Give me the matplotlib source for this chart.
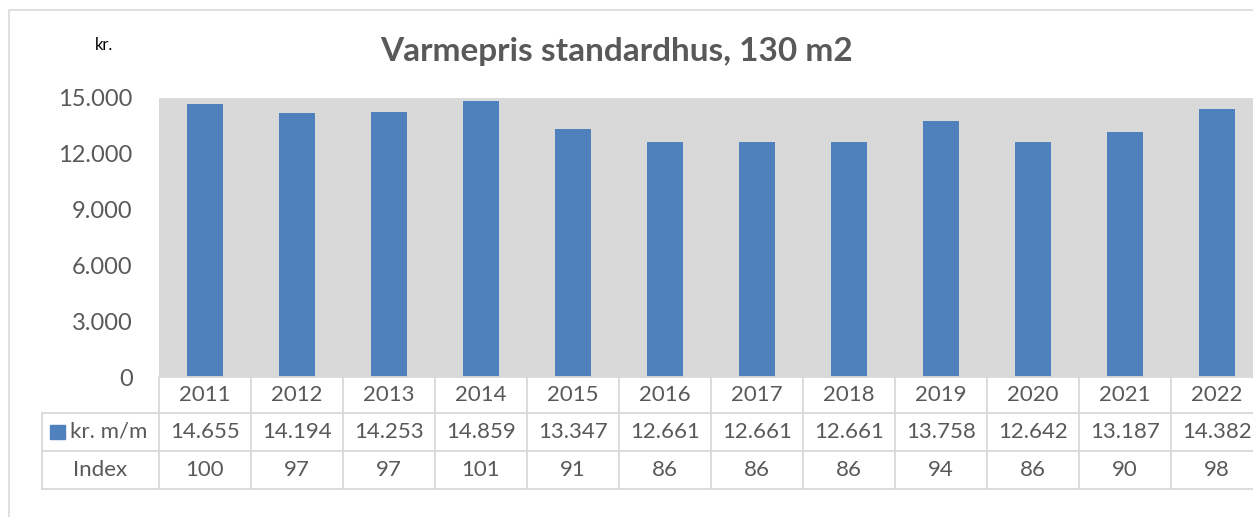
import numpy as np
import matplotlib
matplotlib.use("Agg")
import matplotlib.pyplot as plt
from matplotlib.patches import Rectangle

# ----------------------------------------------------------------------
years = ["2011", "2012", "2013", "2014", "2015", "2016",
         "2017", "2018", "2019", "2020", "2021", "2022"]
price = [14655, 14194, 14253, 14859, 13347, 12661,
         12661, 12661, 13758, 12642, 13187, 14382]
index = [100, 97, 97, 101, 91, 86, 86, 86, 94, 86, 90, 98]
series_name = "kr. m/m"
index_name = "Index"
yticks = [0, 3000, 6000, 9000, 12000, 15000]

BLUE = "#4f81bd"
GREY_BG = "#d9d9d9"
TXT = "#595959"
LINE = "#d9d9d9"

plt.rcParams["font.family"] = ["Lato", "DejaVu Sans"]

W, H = 1253, 517
fig = plt.figure(figsize=(W / 100, H / 100), dpi=100)

# outer chart border (light grey)
fig.patches.append(Rectangle((9 / W, -0.1), 1.2, (517 - 10) / H + 0.1,
                             transform=fig.transFigure, fill=False,
                             edgecolor=LINE, lw=1.2))

x_left, x_right = 159, 1263
y_top, y_zero, y_bot = 98, 377, 489
ax = fig.add_axes([x_left / W, (H - y_zero) / H,
                   (x_right - x_left) / W, (y_zero - y_top) / H])
ax.set_facecolor(GREY_BG)
x = np.arange(len(years))
ax.bar(x, price, width=0.4, color=BLUE, zorder=2)
ax.set_xlim(-0.5, len(years) - 0.5)
ax.set_ylim(0, 15000)
ax.set_yticks(yticks)
ax.set_yticklabels([f"{v:,}".replace(",", ".") for v in yticks],
                   fontsize=17, color=TXT)
ax.tick_params(axis="y", length=0, pad=19)
ax.set_xticks([])
for s in ax.spines.values():
    s.set_visible(False)

# data table underneath
tb = fig.add_axes([x_left / W, (H - y_bot) / H,
                   (x_right - x_left) / W, (y_bot - y_zero) / H])
tb.set_xlim(-0.5, len(years) - 0.5)
tb.set_ylim(0, 112)
tb.axis("off")
lab_x0 = -0.5 - (x_left - 42) / 92.0
kw = dict(color=LINE, lw=1.3, clip_on=False)
# horizontal lines
tb.plot([-0.5, len(years) - 0.5], [112, 112], **kw)
for yy in (76, 38, 0):
    tb.plot([lab_x0, len(years) - 0.5], [yy, yy], **kw)
# vertical lines
for i in range(len(years) + 1):
    tb.plot([i - 0.5, i - 0.5], [0, 112], **kw)
tb.plot([lab_x0, lab_x0], [0, 76], **kw)

fs = 16
for i in range(len(years)):
    tb.text(i, 94, years[i], ha="center", va="center", fontsize=fs, color=TXT)
    tb.text(i, 57, f"{price[i]:,}".replace(",", "."), ha="center",
            va="center", fontsize=fs, color=TXT, clip_on=False)
    tb.text(i, 19, str(index[i]), ha="center", va="center", fontsize=fs,
            color=TXT)
lab_c = (lab_x0 - 0.5) / 2
tb.add_patch(Rectangle((lab_x0 + 0.09, 50), 0.16, 14, color=BLUE,
                       clip_on=False))
tb.text(lab_x0 + 0.3, 57, series_name, ha="left", va="center", fontsize=fs,
        color=TXT, clip_on=False)
tb.text(lab_c, 19, index_name, ha="center", va="center", fontsize=fs,
        color=TXT, clip_on=False)

fig.text(617 / W, 1 - 51 / H, "Varmepris standardhus, 130 m2", ha="center",
         va="center", fontsize=24, fontweight="bold", color=TXT)
fig.text(104 / W, 1 - 45 / H, "kr.", ha="center", va="center", fontsize=12,
         color="#000000")

fig.savefig("out.png", dpi=100)
